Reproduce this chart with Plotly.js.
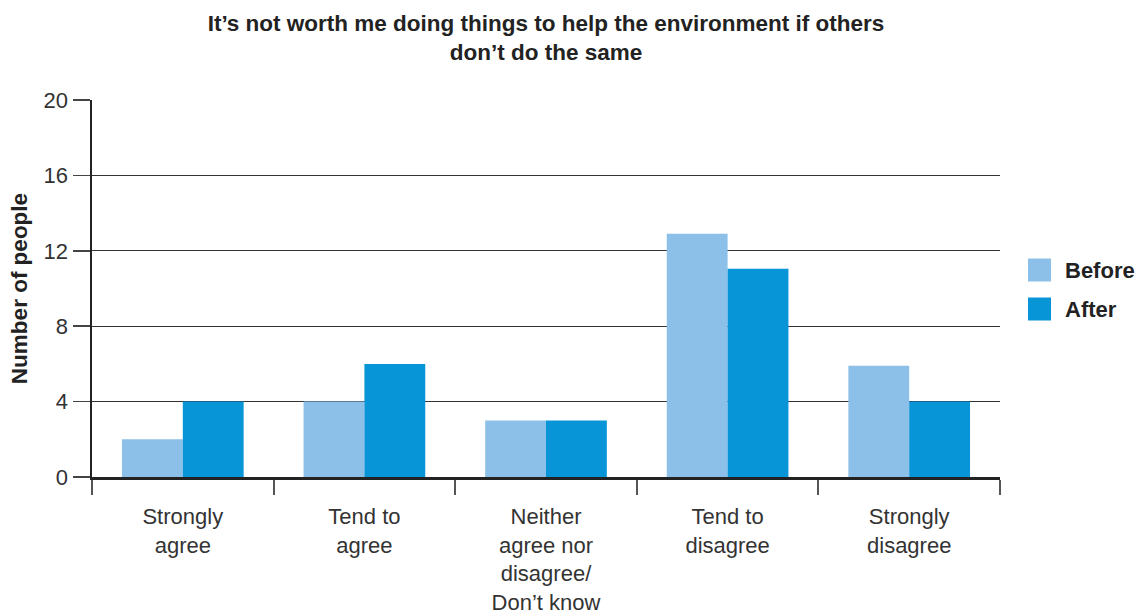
<!DOCTYPE html>
<html>
<head>
<meta charset="utf-8">
<script src="https://cdn.plot.ly/plotly-3.0.1.min.js"></script>
<style>html,body{margin:0;padding:0;background:#fff}#chart{width:1140px;height:615px}</style>
</head>
<body>
<div id="chart"></div>
<script>
const categories = ["Strongly<br>agree", "Tend to<br>agree", "Neither<br>agree nor<br>disagree/<br>Don\u2019t know", "Tend to<br>disagree", "Strongly<br>disagree"];
const before = [2, 4, 3, 12.9, 5.9];
const after = [4, 6, 3, 11.05, 4];
const seriesNames = ["Before", "After"];
const colors = ["#8dc0e8", "#0795d8"];
const yTicks = [0, 4, 8, 12, 16, 20];

const font = "Liberation Sans, Arial, Helvetica, sans-serif";
const traces = [
  {type: "bar", x: categories, y: before, name: seriesNames[0], marker: {color: colors[0]}, showlegend: false, hoverinfo: "y"},
  {type: "bar", x: categories, y: after, name: seriesNames[1], marker: {color: colors[1]}, showlegend: false, hoverinfo: "y"}
];

// legend rows (paper coords): centres at y=270px and y=309px
const legendY = [(477 - 270) / 377, (477 - 309) / 377];
const shapes = [];
const annotations = [];
seriesNames.forEach((n, i) => {
  shapes.push({type: "rect", xref: "paper", yref: "paper",
    x0: (1028 - 92) / 908, x1: (1051 - 92) / 908, y0: legendY[i] - 11.5 / 377, y1: legendY[i] + 11.5 / 377,
    fillcolor: colors[i], line: {width: 0}});
  annotations.push({xref: "paper", yref: "paper", x: (1063 - 92) / 908, y: legendY[i], xanchor: "left", yanchor: "middle",
    text: "<b>" + n + "</b>", showarrow: false, font: {family: font, size: 22, color: "#222"}});
});

const layout = {
  width: 1140, height: 615,
  margin: {l: 92, r: 140, t: 100, b: 138},
  paper_bgcolor: "#fff", plot_bgcolor: "#fff",
  title: {text: "<b>It\u2019s not worth me doing things to help the environment if others<br>don\u2019t do the same</b>",
    x: 0.5, xref: "paper", xanchor: "center", y: 1 - 30.5 / 615, yanchor: "middle", yref: "container",
    font: {family: font, size: 22.5, color: "#222"}},
  bargap: 0.33, bargroupgap: 0, barmode: "group",
  xaxis: {type: "category", tickson: "boundaries", ticks: "outside", ticklen: 15, tickwidth: 2, tickcolor: "#555",
    showline: true, linecolor: "#222", linewidth: 2.5, showgrid: false, ticklabelstandoff: 18,
    tickfont: {family: font, size: 22, color: "#333"}, fixedrange: true},
  yaxis: {range: [0, 20], tickvals: yTicks, ticks: "outside", ticklen: 17, tickwidth: 1.5, tickcolor: "#444",
    showline: true, linecolor: "#222", linewidth: 2.5, showgrid: true, gridcolor: "#333", gridwidth: 1.3,
    zeroline: false, tickfont: {family: font, size: 22, color: "#333"},
    title: {text: "<b>Number of people</b>", font: {family: font, size: 22.5, color: "#222"}, standoff: 10},
    fixedrange: true},
  shapes: shapes,
  annotations: annotations,
  font: {family: font}
};
Plotly.newPlot("chart", traces, layout, {displayModeBar: false, staticPlot: true});
</script>
</body>
</html>
